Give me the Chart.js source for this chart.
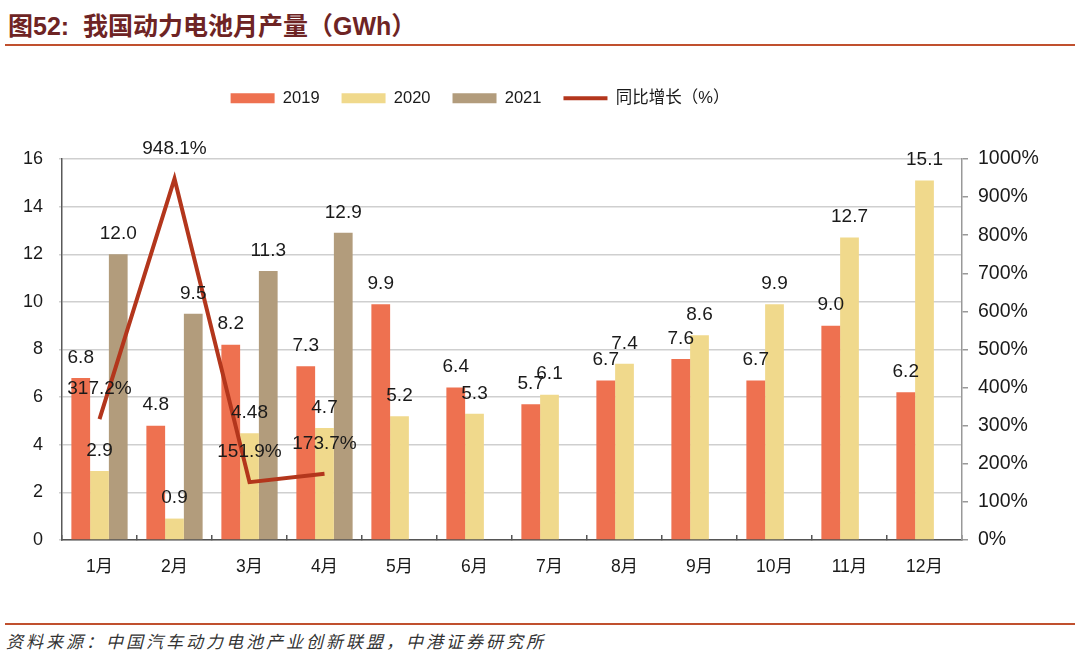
<!DOCTYPE html>
<html lang="zh">
<head>
    <meta charset="UTF-8">
    <title>我国动力电池月产量</title>
    <script src="https://cdn.jsdelivr.net/npm/chart.js"></script>
    <style>
        body { margin: 0; width: 1080px; height: 665px; background: #fff; position: relative; overflow: hidden;
               font-family: "Liberation Sans", "Noto Sans CJK SC", sans-serif; }
        .title { position: absolute; left: 8px; top: 6px; font-size: 25px; font-weight: bold; color: #6E2424; }
        .rule { position: absolute; left: 5px; width: 1070px; height: 2px; background: #C0502E; }
        .source { position: absolute; left: 6px; top: 628px; font-size: 17px; font-style: italic; letter-spacing: 3px; color: #333; }
        #wrap { position: absolute; left: 0; top: 50px; width: 1080px; height: 570px; }
    </style>
</head>
<body>
    <div class="title">图52:&nbsp;&nbsp;我国动力电池月产量（GWh）</div>
    <div class="rule" style="top:44px"></div>
    <div id="wrap"><canvas id="chart"></canvas></div>
    <div class="rule" style="top:623px"></div>
    <div class="source">资料来源：中国汽车动力电池产业创新联盟，中港证券研究所</div>

    <script>
        // monthly output, GWh
        const months = ['1月', '2月', '3月', '4月', '5月', '6月', '7月', '8月', '9月', '10月', '11月', '12月'];
        const prod2019 = [6.8, 4.8, 8.2, 7.3, 9.9, 6.4, 5.7, 6.7, 7.6, 6.7, 9.0, 6.2];
        const prod2020 = [2.9, 0.9, 4.48, 4.7, 5.2, 5.3, 6.1, 7.4, 8.6, 9.9, 12.7, 15.1];
        const prod2021 = [12.0, 9.5, 11.3, 12.9, null, null, null, null, null, null, null, null];
        // year-on-year growth of 2021, %
        const yoyGrowth = [317.2, 948.1, 151.9, 173.7, null, null, null, null, null, null, null, null];

        const labelFont = '19px "Liberation Sans", "Noto Sans CJK SC", sans-serif';

        function fmt(v) {
            return Number.isInteger(v * 10) ? v.toFixed(1) : String(v);
        }

        // value labels above bars and line points
        const valueLabels = {
            id: 'valueLabels',
            afterDatasetsDraw(chart) {
                const ctx = chart.ctx;
                ctx.save();
                ctx.font = labelFont;
                ctx.fillStyle = '#1a1a1a';
                ctx.textAlign = 'center';
                chart.data.datasets.forEach((ds, i) => {
                    const meta = chart.getDatasetMeta(i);
                    meta.data.forEach((el, j) => {
                        const v = ds.data[j];
                        if (v === null) return;
                        if (ds.type === 'line') {
                            ctx.textBaseline = 'middle';
                            ctx.fillText(v.toFixed(1) + '%', el.x, el.y - 30);
                        } else {
                            ctx.textBaseline = 'bottom';
                            ctx.fillText(fmt(v), el.x, el.y - 11);
                        }
                    });
                });
                ctx.restore();
            }
        };

        // make room under the legend and nudge it left like the original
        const legendSpace = {
            id: 'legendSpace',
            beforeInit(chart) {
                const fit = chart.legend.fit;
                chart.legend.fit = function () {
                    fit.call(this);
                    this.height = 91;
                };
            },
            afterLayout(chart) {
                chart.legend.left -= 60;
                chart.legend.right -= 60;
            }
        };

        Chart.defaults.font.family = '"Liberation Sans", "Noto Sans CJK SC", sans-serif';
        Chart.defaults.font.size = 18;
        Chart.defaults.color = '#1a1a1a';

        const barOpts = { categoryPercentage: 0.75, barPercentage: 1.0, borderWidth: 0, pointStyle: 'rect', yAxisID: 'y' };

        const ctx = document.getElementById('chart').getContext('2d');
        const chart = new Chart(ctx, {
            type: 'bar',
            data: {
                labels: months,
                datasets: [
                    { label: '2019', data: prod2019, backgroundColor: '#EE7150', ...barOpts },
                    { label: '2020', data: prod2020, backgroundColor: '#F0D98C', ...barOpts },
                    { label: '2021', data: prod2021, backgroundColor: '#B29C7C', ...barOpts },
                    {
                        type: 'line',
                        label: '同比增长（%）',
                        data: yoyGrowth,
                        yAxisID: 'y1',
                        borderColor: '#B3361C',
                        backgroundColor: '#B3361C',
                        borderWidth: 4,
                        borderJoinStyle: 'miter',
                        pointRadius: 0,
                        pointStyle: 'line',
                        tension: 0,
                        order: -1
                    }
                ]
            },
            options: {
                responsive: true,
                maintainAspectRatio: false,
                animation: false,
                layout: { padding: { top: 18, left: 0, right: 0, bottom: 0 } },
                plugins: {
                    tooltip: { enabled: false },
                    legend: {
                        position: 'top',
                        labels: {
                            usePointStyle: true,
                            pointStyleWidth: 44,
                            boxHeight: 10,
                            padding: 22,
                            color: '#1a1a1a',
                            font: { size: 16.5 },
                            sort: (a, b) => a.datasetIndex - b.datasetIndex
                        }
                    }
                },
                scales: {
                    x: {
                        grid: { offset: true, drawOnChartArea: false, tickLength: -5, color: '#555', lineWidth: 1.5 },
                        border: { color: '#555', width: 1.5 },
                        ticks: { padding: 22, font: { size: 17.5 } },
                        afterFit(s) { s.height = 80; }
                    },
                    y: {
                        position: 'left',
                        min: 0,
                        max: 16,
                        ticks: { stepSize: 2, padding: 16, font: { size: 18 } },
                        grid: { color: '#CFCFCF', lineWidth: 1.5, tickLength: 3 },
                        border: { color: '#595959', width: 1.5 },
                        afterFit(s) { s.width = 62; }
                    },
                    y1: {
                        position: 'right',
                        min: 0,
                        max: 1000,
                        ticks: { stepSize: 100, padding: 10, font: { size: 19.5 }, callback: v => v + '%' },
                        grid: { drawOnChartArea: false, color: '#999', lineWidth: 1.5, tickLength: 6 },
                        border: { color: '#999', width: 1.5 },
                        afterFit(s) { s.width = 118; }
                    }
                }
            },
            plugins: [valueLabels, legendSpace]
        });
    </script>
</body>
</html>
